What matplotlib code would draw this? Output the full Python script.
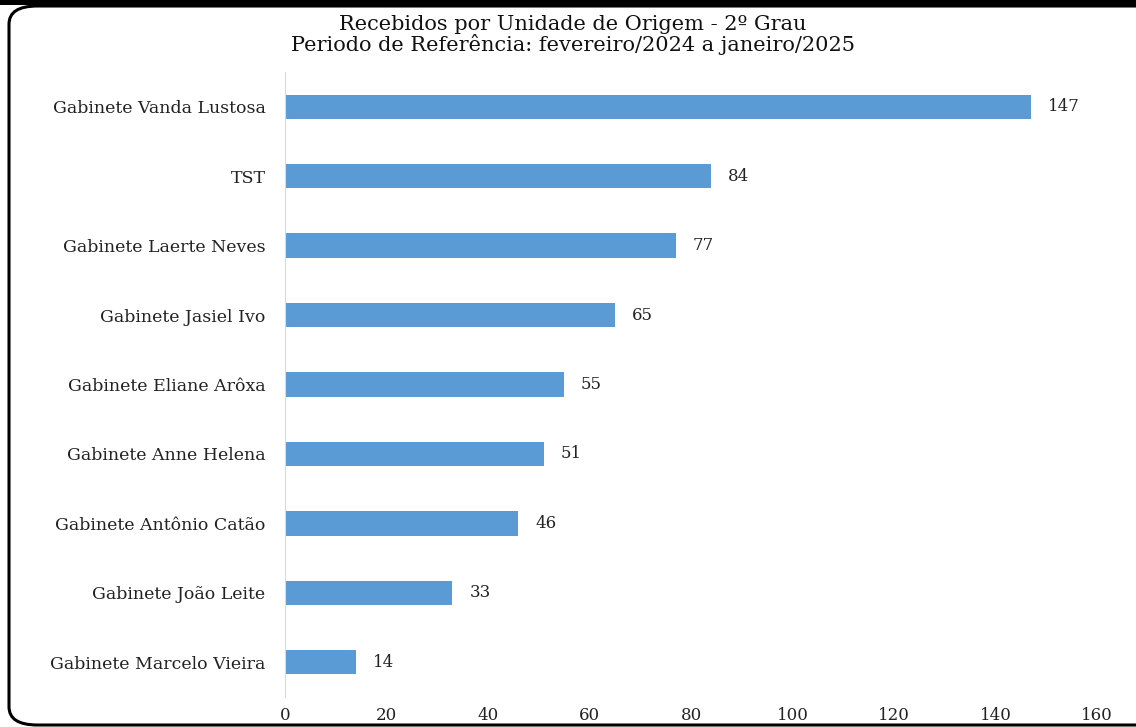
import matplotlib
matplotlib.use("Agg")
import matplotlib.pyplot as plt
from matplotlib.patches import FancyBboxPatch, Rectangle

# data
categories = [
    "Gabinete Vanda Lustosa",
    "TST",
    "Gabinete Laerte Neves",
    "Gabinete Jasiel Ivo",
    "Gabinete Eliane Arôxa",
    "Gabinete Anne Helena",
    "Gabinete Antônio Catão",
    "Gabinete João Leite",
    "Gabinete Marcelo Vieira",
]
values = [147, 84, 77, 65, 55, 51, 46, 33, 14]
x_ticks = [0, 20, 40, 60, 80, 100, 120, 140, 160]

title = "Recebidos por Unidade de Origem - 2º Grau\nPeriodo de Referência: fevereiro/2024 a janeiro/2025"

# the reference text is a wide, stretched serif; DejaVu Serif is the closest width
plt.rcParams["font.family"] = ["DejaVu Serif"]

W, H = 1136, 727
fig = plt.figure(figsize=(W / 100, H / 100), dpi=100)

# frame around the chart
fig.patches.append(Rectangle((0, 1 - 5 / H), 1, 5 / H, transform=fig.transFigure,
                             facecolor="black", edgecolor="none", zorder=0))
fig.patches.append(FancyBboxPatch((9 / W, 2 / H), (W + 20) / W, (H - 8) / H,
                                  boxstyle="round,pad=0,rounding_size=0.025",
                                  transform=fig.transFigure, facecolor="none",
                                  edgecolor="black", linewidth=2.2, zorder=1))

ax = fig.add_axes([285 / W, 1 - 697 / H, (1097 - 285) / W, (697 - 72) / H])
y = list(range(len(categories)))
ax.barh(y, values, height=0.35, color="#5B9BD5")
ax.set_ylim(len(categories) - 0.5, -0.5)
ax.set_xlim(0, 160)
ax.set_yticks(y)
ax.set_yticklabels(categories, fontsize=12.5)
ax.set_xticks(x_ticks)
ax.tick_params(axis="both", length=0, colors="#222222")
ax.tick_params(axis="y", pad=14, labelsize=12.5)
ax.tick_params(axis="x", pad=7, labelsize=12)
for side in ("top", "right", "bottom"):
    ax.spines[side].set_visible(False)
ax.spines["left"].set_color("#D9D9D9")

for yi, v in zip(y, values):
    ax.annotate(str(v), (v, yi), xytext=(17, 0), textcoords="offset pixels",
                va="center", ha="left", fontsize=12, color="#222222")

fig.text(573 / W, 1 - 35 / H, title, ha="center", va="center", fontsize=15,
         linespacing=0.95, color="#111111")

fig.savefig("out.png", dpi=100)
